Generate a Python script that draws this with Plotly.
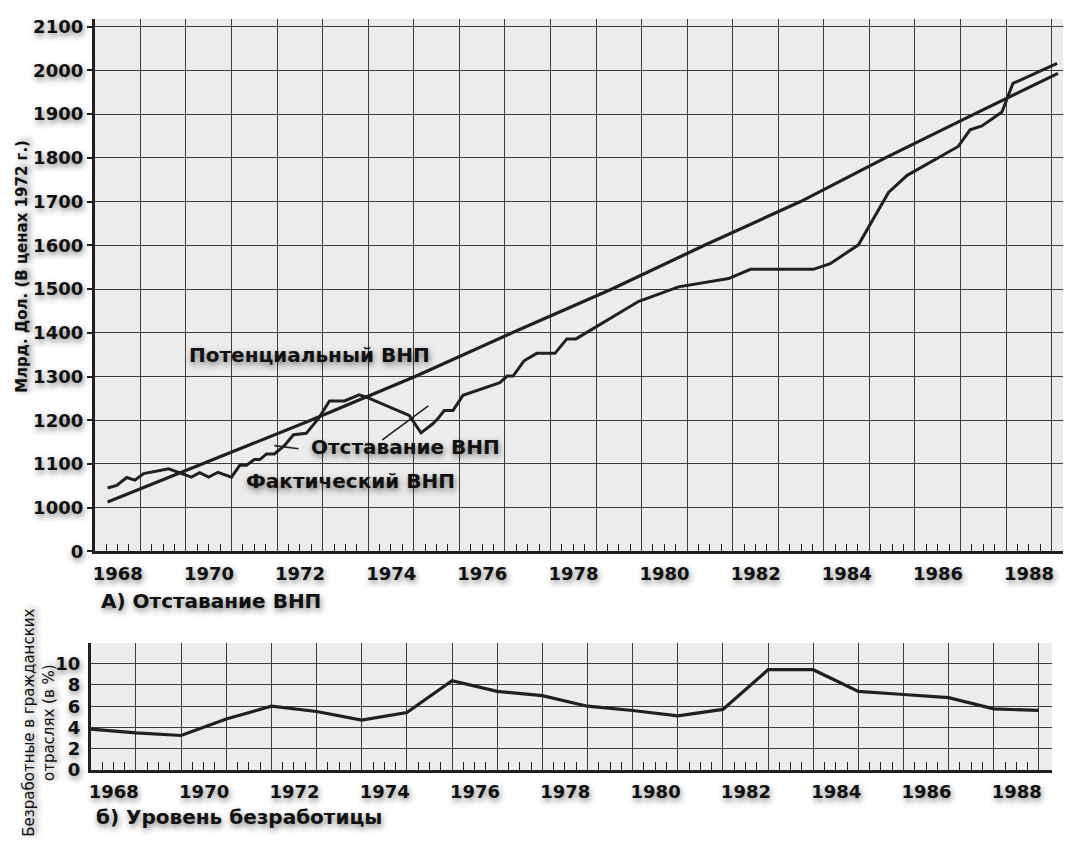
import plotly.graph_objects as go

# ---------------- data ----------------
# Actual GNP (billion $, 1972 prices)
actual_years = [1968.28, 1968.48, 1968.70, 1968.88, 1969.07, 1969.62, 1969.91, 1970.12,
                1970.30, 1970.50, 1970.70, 1971.00, 1971.18, 1971.33, 1971.50, 1971.62,
                1971.77, 1971.94, 1972.16, 1972.36, 1972.64, 1972.91, 1973.15, 1973.48,
                1973.80, 1973.96, 1974.90, 1975.16, 1975.43, 1975.54, 1975.67, 1975.86,
                1976.08, 1976.89, 1977.05, 1977.18, 1977.42, 1977.70, 1978.10, 1978.36,
                1978.56, 1979.94, 1980.81, 1981.91, 1982.39, 1983.77, 1984.14, 1984.76,
                1985.42, 1985.83, 1986.95, 1987.21, 1987.47, 1987.91, 1988.15, 1989.12]
actual_gnp = [1045, 1051, 1069, 1063, 1078, 1089, 1078, 1070,
              1080, 1070, 1081, 1070, 1097, 1097, 1110, 1110,
              1123, 1123, 1142, 1167, 1170, 1204, 1244, 1244,
              1258, 1253, 1211, 1171, 1193, 1205, 1222, 1222,
              1257, 1286, 1301, 1301, 1336, 1353, 1353, 1386,
              1386, 1472, 1505, 1524, 1545, 1545, 1558, 1601,
              1721, 1760, 1826, 1864, 1873, 1905, 1970, 2016]

# Potential GNP
potential_years = [1968.28, 1970.34, 1972.74, 1975.03, 1977.16, 1979.35, 1981.38,
                   1983.49, 1985.35, 1987.30, 1989.14]
potential_gnp = [1013, 1100, 1200, 1300, 1400, 1500, 1600, 1700, 1800, 1900, 1993]

# Civilian unemployment rate (%)
unemp_years = [1968, 1969, 1970, 1971, 1972, 1973, 1974, 1975, 1976, 1977, 1978,
               1979, 1980, 1981, 1982, 1983, 1984, 1985, 1986, 1987, 1988, 1989]
unemployment = [3.85, 3.5, 3.25, 4.8, 6.0, 5.5, 4.7, 5.4, 8.4, 7.4, 7.0,
                6.0, 5.6, 5.1, 5.7, 9.43, 9.43, 7.4, 7.1, 6.8, 5.75, 5.6]

# Axis ticks
year_ticks = [1968, 1969, 1970, 1971, 1972, 1973, 1974, 1975, 1976, 1977, 1978,
              1979, 1980, 1981, 1982, 1983, 1984, 1985, 1986, 1987, 1988, 1989]
year_labels = ["1968", "", "1970", "", "1972", "", "1974", "", "1976", "", "1978",
               "", "1980", "", "1982", "", "1984", "", "1986", "", "1988", ""]
gnp_ticks = [900, 1000, 1100, 1200, 1300, 1400, 1500, 1600, 1700, 1800, 1900, 2000, 2100]
gnp_labels = ["0", "1000", "1100", "1200", "1300", "1400", "1500", "1600", "1700",
              "1800", "1900", "2000", "2100"]
unemp_ticks = [0, 2, 4, 6, 8, 10]

# ---------------- styling ----------------
W, H = 1067, 847
INK = "#231f20"
GRID = "#3c3c3c"
BG = "#ececec"
FONT = "DejaVu Sans"
SHADOW = "1px 3px 6px rgba(0,0,0,0.5)"

def px_x(p):
    return p / W

def px_y(p):
    return (H - p) / H

quarters = [y + q for y in year_ticks[:-1] for q in (0.25, 0.5, 0.75)]

fig = go.Figure()

fig.add_trace(go.Scatter(x=potential_years, y=potential_gnp, mode="lines",
                         line=dict(color=INK, width=3.2), name="Потенциальный ВНП",
                         xaxis="x", yaxis="y", hoverinfo="skip"))
fig.add_trace(go.Scatter(x=actual_years, y=actual_gnp, mode="lines",
                         line=dict(color=INK, width=3.0), name="Фактический ВНП",
                         xaxis="x", yaxis="y", hoverinfo="skip"))
fig.add_trace(go.Scatter(x=unemp_years, y=unemployment, mode="lines",
                         line=dict(color=INK, width=3.2), name="Безработица",
                         xaxis="x2", yaxis="y2", hoverinfo="skip"))

tick_font = dict(family=FONT, size=18, color="#111", weight="bold", shadow=SHADOW)

def xaxis_cfg(domain, rng, anchor):
    return dict(
        domain=domain, range=rng, anchor=anchor,
        tickmode="array", tickvals=year_ticks, ticktext=year_labels,
        ticks="", ticklabelshift=23, ticklabelstandoff=4,
        showgrid=True, gridcolor=GRID, gridwidth=1.3,
        showline=True, linecolor=INK, linewidth=2.6,
        zeroline=False, tickfont=tick_font,
        minor=dict(tickvals=quarters, ticks="inside", ticklen=8,
                   tickwidth=1.4, tickcolor=INK, showgrid=False),
        fixedrange=True,
    )

fig.update_layout(
    width=W, height=H,
    margin=dict(l=0, r=0, t=0, b=0),
    paper_bgcolor="white", plot_bgcolor=BG,
    showlegend=False,
    xaxis=xaxis_cfg([px_x(93), px_x(1063)], [1968, 1989.25], "y"),
    yaxis=dict(
        domain=[px_y(557), px_y(16)], range=[900, 2118],
        tickmode="array", tickvals=gnp_ticks, ticktext=gnp_labels,
        ticks="outside", ticklen=5, tickcolor=INK, tickwidth=2,
        showgrid=True, gridcolor=GRID, gridwidth=1.3,
        showline=True, linecolor=INK, linewidth=3,
        zeroline=False, tickfont=tick_font, anchor="x", fixedrange=True,
    ),
    xaxis2=xaxis_cfg([px_x(89), px_x(1052)], [1968, 1989.29], "y2"),
    yaxis2=dict(
        domain=[px_y(779), px_y(650)], range=[0, 11.94],
        tickmode="array", tickvals=unemp_ticks,
        ticks="", showgrid=True, gridcolor=GRID, gridwidth=1.3,
        showline=True, linecolor=INK, linewidth=3,
        zeroline=False, tickfont=tick_font, anchor="x2", fixedrange=True,
        ticklabelstandoff=4,
    ),
)

label_font = dict(family=FONT, size=20, color="#111", weight="bold", shadow=SHADOW)

annotations = [
    dict(text="Потенциальный ВНП", x=px_x(185), y=px_y(357), xanchor="left", yanchor="middle"),
    dict(text="Отставание ВНП", x=px_x(308), y=px_y(451), xanchor="left", yanchor="middle"),
    dict(text="Фактический ВНП", x=px_x(242), y=px_y(485), xanchor="left", yanchor="middle"),
    dict(text="А) Отставание ВНП", x=px_x(97), y=px_y(607), xanchor="left", yanchor="middle"),
    dict(text="б) Уровень безработицы", x=px_x(92), y=px_y(827), xanchor="left", yanchor="middle"),
]
for a in annotations:
    fig.add_annotation(xref="paper", yref="paper", showarrow=False, font=label_font, **a)

fig.add_annotation(xref="paper", yref="paper", showarrow=False,
                   text="Млрд. Дол. (В ценах 1972 г.)", textangle=-90,
                   x=px_x(20), y=px_y(267), xanchor="center", yanchor="middle",
                   font=dict(family=FONT, size=15, color="#111", weight="bold", shadow=SHADOW))
fig.add_annotation(xref="paper", yref="paper", showarrow=False,
                   text="Безработные в гражданских<br>отраслях (в %)", textangle=-90,
                   x=px_x(37), y=px_y(731), xanchor="center", yanchor="middle", align="center",
                   font=dict(family=FONT, size=15, color="#111", shadow=SHADOW))

# leader lines of the "Отставание ВНП" label
fig.add_shape(type="line", xref="x", yref="y", x0=1971.94, y0=1142, x1=1972.47, y1=1135,
              line=dict(color=INK, width=1.6))
fig.add_shape(type="line", xref="x", yref="y", x0=1974.31, y0=1155, x1=1975.32, y1=1233,
              line=dict(color=INK, width=1.6))

PAGE_FIX = ("var h=document.documentElement,b=document.body;"
            "h.style.margin='0';h.style.padding='0';h.style.overflow='hidden';"
            "b.style.margin='0';b.style.padding='0';b.style.overflow='hidden';"
            "h.style.height='847px';b.style.height='847px';")

fig.write_html("out.html", config={"displayModeBar": False}, post_script=PAGE_FIX)
